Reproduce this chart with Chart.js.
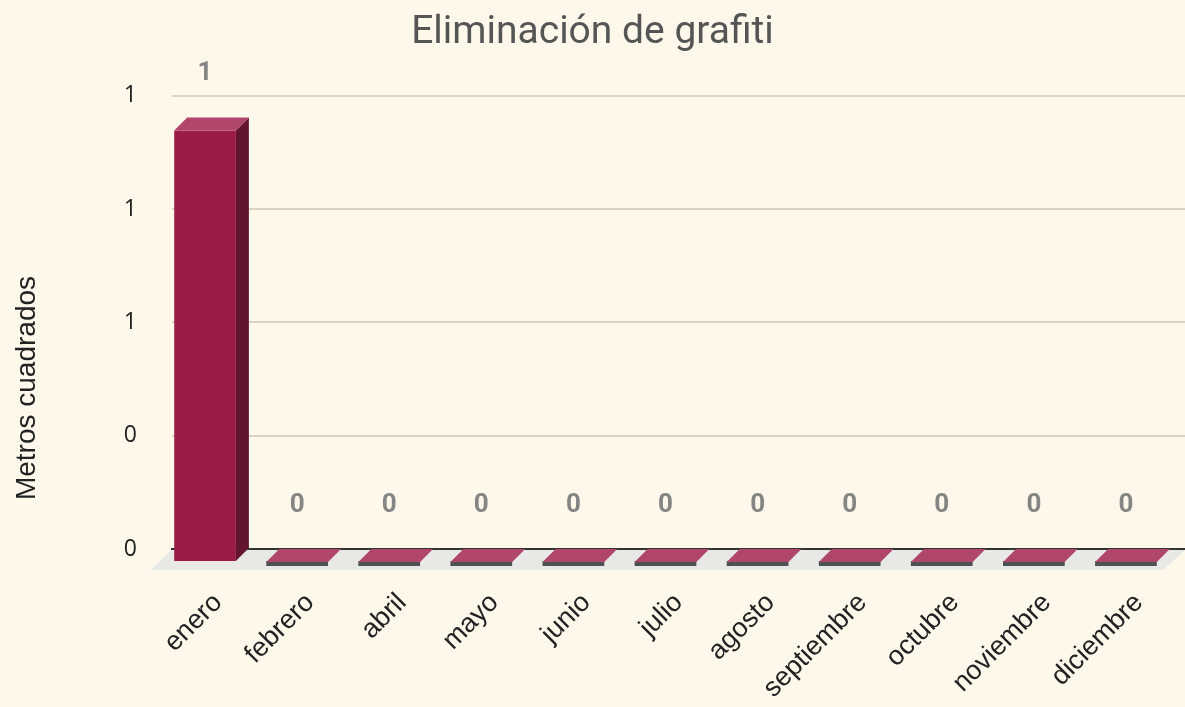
<!DOCTYPE html>
<html>
<head>
<meta charset="utf-8">
<script src="https://cdn.jsdelivr.net/npm/chart.js@4/dist/chart.umd.min.js"></script>
<style>
  html, body { margin: 0; padding: 0; background: #fdf8ea; }
  #wrap { width: 1185px; height: 707px; }
</style>
</head>
<body>
<div id="wrap"><canvas id="grafitiChart"></canvas></div>
<script>
const months = ["enero", "febrero", "abril", "mayo", "junio", "julio", "agosto",
  "septiembre", "octubre", "noviembre", "diciembre"];
const metros = [1, 0, 0, 0, 0, 0, 0, 0, 0, 0, 0];
const yMax = 1.05;
const yTicks = [0, 0.2625, 0.525, 0.7875, 1.05];
const yTitle = "Metros cuadrados";

// 3D look: front face shifted left/down from the back plane
const DX = -13;
const DY = 13;

const bars3d = {
  id: "bars3d",
  beforeDatasetsDraw(chart) {
    const { ctx, chartArea } = chart;
    const base = chart.scales.y.getPixelForValue(0);
    ctx.save();
    ctx.fillStyle = "#e8e8e5";
    ctx.beginPath();
    ctx.moveTo(chartArea.left, base + 1);
    ctx.lineTo(chartArea.right, base + 1);
    ctx.lineTo(chartArea.right - 22, base + 21);
    ctx.lineTo(chartArea.left - 22, base + 21);
    ctx.closePath();
    ctx.fill();
    ctx.restore();
  },
  beforeDatasetDraw(chart) {
    chart.ctx.save();
    chart.ctx.translate(DX, DY);
  },
  afterDatasetDraw(chart, args) {
    const ctx = chart.ctx;
    ctx.restore();
    args.meta.data.forEach((bar, i) => {
      const { x, y, base, width } = bar.getProps(["x", "y", "base", "width"], true);
      const l = x - width / 2;
      const r = x + width / 2;
      ctx.save();
      if (base - y > 1) {
        // side face
        ctx.fillStyle = "#631430";
        ctx.beginPath();
        ctx.moveTo(r + DX, y + DY);
        ctx.lineTo(r, y);
        ctx.lineTo(r, base);
        ctx.lineTo(r + DX, base + DY);
        ctx.closePath();
        ctx.fill();
      } else {
        ctx.fillStyle = "#4d5254";
        ctx.fillRect(l + DX, base + DY - 1, width, 5);
      }
      // top face
      ctx.fillStyle = "#b0466c";
      ctx.beginPath();
      ctx.moveTo(l + DX, y + DY);
      ctx.lineTo(r + DX, y + DY);
      ctx.lineTo(r, y);
      ctx.lineTo(l, y);
      ctx.closePath();
      ctx.fill();
      // value label
      ctx.fillStyle = "#858585";
      ctx.font = "bold 26px Roboto";
      ctx.textAlign = "center";
      ctx.textBaseline = "middle";
      ctx.fillText(String(metros[i]), x + DX, y - 44);
      ctx.restore();
    });
  },
  afterDraw(chart) {
    const ctx = chart.ctx;
    ctx.save();
    ctx.translate(27, 388);
    ctx.rotate(-Math.PI / 2);
    ctx.fillStyle = "#222222";
    ctx.font = "28px 'Liberation Sans'";
    ctx.textAlign = "center";
    ctx.textBaseline = "middle";
    ctx.fillText(yTitle, 0, 0);
    ctx.restore();
  }
};

new Chart(document.getElementById("grafitiChart"), {
  type: "bar",
  data: {
    labels: months,
    datasets: [
      {
        label: yTitle,
        data: metros,
        backgroundColor: "#9b1d45",
        borderWidth: 0,
        barPercentage: 0.67,
        categoryPercentage: 1,
      },
    ],
  },
  options: {
    responsive: true,
    maintainAspectRatio: false,
    animation: false,
    layout: { padding: 0 },
    plugins: {
      legend: { display: false },
      tooltip: { enabled: false },
      title: {
        display: true,
        text: "Eliminación de grafiti",
        color: "#555555",
        font: { family: "Roboto", size: 39, weight: "normal", lineHeight: 1.2 },
        padding: { top: 10, bottom: 39 },
      },
    },
    scales: {
      x: {
        grid: { display: false, drawTicks: false },
        border: { display: true, color: "#333333", width: 2 },
        ticks: {
          color: "#222222",
          font: { family: "Liberation Sans", size: 27 },
          minRotation: 45,
          maxRotation: 45,
          padding: 38,
        },
        afterFit(scale) {
          scale.height = 158;
          scale.paddingLeft = 0;
          scale.paddingRight = 0;
        },
      },
      y: {
        min: 0,
        max: yMax,
        afterBuildTicks(scale) {
          scale.ticks = yTicks.map((v) => ({ value: v }));
        },
        grid: { color: "#d9d3c0", lineWidth: 2, drawTicks: false },
        border: { display: false },
        ticks: {
          color: "#222222",
          font: { family: "Open Sans", size: 23 },
          padding: 35,
          callback: (v) => String(Math.round(v)),
        },
        afterFit(scale) { scale.width = 172; },
      },
    },
  },
  plugins: [bars3d],
});
</script>
</body>
</html>
